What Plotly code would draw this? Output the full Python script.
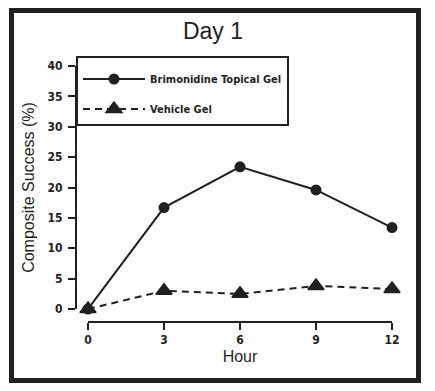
import plotly.graph_objects as go

hours = [0, 3, 6, 9, 12]
brimonidine = [0, 16.7, 23.4, 19.6, 13.4]
vehicle = [0, 3.0, 2.5, 3.8, 3.3]
y_ticks = [0, 5, 10, 15, 20, 25, 30, 35, 40]
x_ticks = [0, 3, 6, 9, 12]

INK = "#231f20"
COND = "Liberation Sans Narrow, DejaVu Sans Condensed, Arial Narrow, sans-serif"
REG = "Liberation Sans, Arial, Helvetica, sans-serif"

fig = go.Figure()
fig.add_trace(go.Scatter(
    x=hours, y=brimonidine, name="Brimonidine Topical Gel",
    mode="lines+markers", legendgroup="a",
    line=dict(color=INK, width=2),
    marker=dict(symbol="circle", size=11, color=INK),
    cliponaxis=False,
))
fig.add_trace(go.Scatter(
    x=hours, y=vehicle, name="Vehicle Gel",
    mode="lines+markers", legendgroup="b",
    line=dict(color=INK, width=2, dash="7px,5px"),
    marker=dict(symbol="triangle-up", size=14, color=INK, line=dict(color=INK, width=1.5)),
    cliponaxis=False,
))

fig.update_layout(
    width=435, height=391,
    margin=dict(l=76, r=43, t=66, b=69, autoexpand=False),
    paper_bgcolor="white", plot_bgcolor="white",
    title=dict(text="Day 1", x=213/435, xref="container", xanchor="center",
               y=1 - 31/391, yanchor="middle", yref="container",
               font=dict(family=REG, size=23, color=INK)),
    xaxis=dict(
        domain=[12/316, 1], range=[0, 12], anchor="free", position=0,
        tickvals=x_ticks, ticktext=[str(v) for v in x_ticks],
        showline=True, linecolor=INK, linewidth=2, showgrid=False, zeroline=False,
        ticks="outside", ticklen=7, tickwidth=2, tickcolor=INK, automargin=False,
        tickfont=dict(family=COND, size=12, color=INK, weight="bold"),
        title=dict(text="Hour", font=dict(family=REG, size=16, color=INK), standoff=3),
    ),
    yaxis=dict(
        domain=[13/256, 1], range=[0, 40], anchor="free", position=0,
        tickvals=y_ticks, ticktext=[str(v) for v in y_ticks],
        showline=True, linecolor=INK, linewidth=2, showgrid=False, zeroline=False,
        ticks="outside", ticklen=7, tickwidth=2, tickcolor=INK, automargin=False,
        ticklabelstandoff=3,
        tickfont=dict(family=COND, size=12, color=INK, weight="bold"),
        title=dict(text="Composite Success (%)", font=dict(family=REG, size=16, color=INK), standoff=8),
    ),
    legend=dict(
        x=0, y=(322 - 56) / 256, xanchor="left", yanchor="top",
        bordercolor=INK, borderwidth=2, bgcolor="white",
        font=dict(family=COND, size=11, color=INK, weight="bold"),
        title=dict(text=" ", font=dict(size=5)),
        itemwidth=62, tracegroupgap=11, traceorder="grouped",
    ),
    showlegend=True,
    shapes=[dict(type="rect", xref="paper", yref="paper",
                 x0=(11.5 - 76) / 316, x1=(418.5 - 76) / 316,
                 y0=(322 - 380.5) / 256, y1=(322 - 10.5) / 256,
                 line=dict(color=INK, width=5))],
)

fig.write_html("out.html", config={"displayModeBar": False},
               post_script="document.body.style.margin='0';document.body.style.overflow='hidden';")
